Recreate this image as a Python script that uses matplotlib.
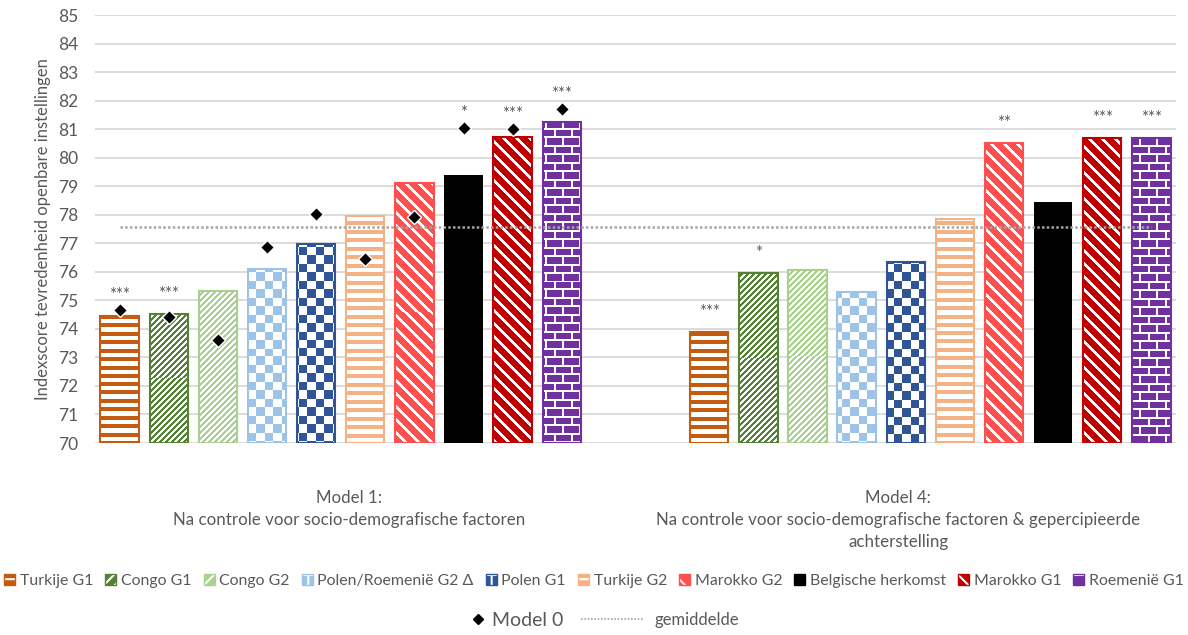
import numpy as np
import matplotlib.pyplot as plt
from matplotlib.colors import to_rgb
from matplotlib.lines import Line2D
from matplotlib.patches import Patch

plt.rcParams['font.family'] = ['Lato', 'DejaVu Sans']
plt.rcParams['hatch.linewidth'] = 1.5

# data
series = ['Turkije G1', 'Congo G1', 'Congo G2', 'Polen/Roemenië G2 Δ', 'Polen G1',
          'Turkije G2', 'Marokko G2', 'Belgische herkomst', 'Marokko G1', 'Roemenië G1']
model1 = [74.45, 74.52, 75.33, 76.09, 76.96, 77.97, 79.10, 79.38, 80.74, 81.25]
model4 = [73.90, 75.95, 76.05, 75.29, 76.36, 77.84, 80.52, 78.44, 80.70, 80.70]
model0 = [74.67, 74.42, 73.60, 76.86, 78.04, 76.45, 77.93, 81.03, 81.01, 81.72]
sig1 = ['***', '***', '', '', '', '', '', '*', '***', '***']
sig4 = ['***', '*', '', '', '', '', '**', '', '***', '***']
gemiddelde = 77.57
group_labels = ['Model 1:\nNa controle voor socio-demografische factoren',
                'Model 4:\nNa controle voor socio-demografische factoren & gepercipieerde\nachterstelling']

colors = ['#C55A11', '#548235', '#A9D18E', '#9DC3E6', '#2F5597',
          '#F4B183', '#FF5050', '#000000', '#C00000', '#7030A0']
patterns = ['hline', 'updiag', 'updiag', 'check', 'check',
            'hline', 'downdiag', 'solid', 'downdiag', 'brick']
legend_hatch = {'hline': '--', 'updiag': '///', 'check': '+', 'downdiag': '\\\\',
                'brick': '-', 'solid': ''}

grey = '#595959'
W, H = 1188, 635
fig = plt.figure(figsize=(W / 100, H / 100), dpi=100)
ax = fig.add_axes([95 / W, 192 / H, 1081 / W, 428 / H])
ax.set_xlim(-0.5, 21.5)
ax.set_ylim(70, 85)
ax.set_autoscale_on(False)


def make_pattern(kind, color, c0, r0, w, h):
    rows, cols = np.mgrid[0:h, 0:w]
    r = rows + r0
    c = cols + c0
    if kind == 'hline':
        mask = (r % 8.5) < 4
    elif kind == 'updiag':
        mask = ((c + r) % 6) < 3
    elif kind == 'downdiag':
        mask = ((c - r) % 13) >= 4
    elif kind == 'check':
        mask = ((c // 8.5) + (r // 8.5)) % 2 == 0
    elif kind == 'brick':
        row = r // 8.5
        mask = ~(((r % 8.5) < 1.6) | (((c + (row % 2) * 8.5) % 17) < 1.6))
    else:
        mask = np.ones((h, w), bool)
    img = np.ones((h, w, 3))
    img[mask] = to_rgb(color)
    return img


bw = 0.78
for g, vals in enumerate([model1, model4]):
    xs = np.arange(len(series)) + 12 * g
    for i, (x, v) in enumerate(zip(xs, vals)):
        col = colors[i]
        if patterns[i] == 'solid':
            ax.bar(x, v - 70, bottom=70, width=bw, color=col, zorder=3)
            continue
        rect = ax.bar(x, v - 70, bottom=70, width=bw, facecolor='none',
                      edgecolor=col, linewidth=1.5, zorder=3)[0]
        (px0, py0), (px1, py1) = ax.transData.transform([(x - bw / 2, 70), (x + bw / 2, v)])
        w = int(round(px1 - px0)) + 1
        h = int(round(py1 - py0)) + 1
        img = make_pattern(patterns[i], col, int(px0), int(H - py1), w, h)
        ax.imshow(img, extent=(x - bw / 2, x + bw / 2, 70, v), aspect='auto',
                  interpolation='nearest', zorder=2, clip_path=rect)

# significance stars
for g, (vals, sig) in enumerate([(model1, sig1), (model4, sig4)]):
    for i, (v, s) in enumerate(zip(vals, sig)):
        if not s:
            continue
        x = i + 12 * g
        off = 20
        if g == 0:
            d_px = ax.transData.transform((x, model0[i]))[1]
            b_px = ax.transData.transform((x, v))[1]
            off = max(20, d_px - b_px + 15)
        ax.annotate(s, (x, v), xytext=(0, off), textcoords='offset pixels',
                    ha='center', va='center', fontsize=12, color=grey, zorder=6)

# model 0 diamonds
ax.plot(np.arange(len(series)), model0, linestyle='none', marker='D', markersize=7.5,
        color='black', markeredgecolor='white', markeredgewidth=1, zorder=5)

# average line
ax.plot([0, 21], [gemiddelde, gemiddelde], color='#A6A6A6', linewidth=1.8,
        linestyle=(0, (1, 0.9)), zorder=4)

ax.set_yticks(np.arange(70, 86, 1))
ax.grid(axis='y', color='#D9D9D9', linewidth=1.3)
ax.set_axisbelow(True)
ax.tick_params(axis='y', length=0, pad=12, labelsize=12.5, labelcolor=grey)
ax.set_xticks([])
for sp in ax.spines.values():
    sp.set_visible(False)
ax.set_ylabel('Indexscore tevredenheid openbare instellingen', fontsize=12, color=grey)
ax.yaxis.set_label_coords(-0.041, 0.5)

for xg, lab in zip([4.68, 15.85], group_labels):
    ax.text(xg, -0.11, lab, transform=ax.get_xaxis_transform(), ha='center', va='top',
            fontsize=12.2, color=grey, linespacing=1.45)

# legends
handles = []
for col, pat in zip(colors, patterns):
    if pat == 'solid':
        handles.append(Patch(facecolor=col, edgecolor=col))
    else:
        handles.append((Patch(facecolor=col, edgecolor='white', hatch=legend_hatch[pat], linewidth=0),
                        Patch(facecolor='none', edgecolor=col, linewidth=1)))
leg1 = fig.legend(handles, series, loc='center', bbox_to_anchor=(0.5, 0.085), ncol=10,
                  frameon=False, fontsize=11.4, handlelength=0.7, handleheight=0.7,
                  handletextpad=0.3, columnspacing=0.75, labelcolor=grey)
leg2 = fig.legend([Line2D([], [], linestyle='none', marker='D', markersize=5, color='black')],
                  ['Model 0'], loc='center', bbox_to_anchor=(518 / W, 1 - 620 / H),
                  frameon=False, fontsize=14, handlelength=0.6, handletextpad=0.4, labelcolor=grey)
leg3 = fig.legend([Line2D([], [], color='#A6A6A6', linewidth=1.2, linestyle=(0, (1, 1)))],
                  ['gemiddelde'], loc='center', bbox_to_anchor=(660 / W, 1 - 620 / H),
                  frameon=False, fontsize=12, handlelength=3.8, handletextpad=0.6, labelcolor=grey)

fig.savefig('out.png', dpi=100)
